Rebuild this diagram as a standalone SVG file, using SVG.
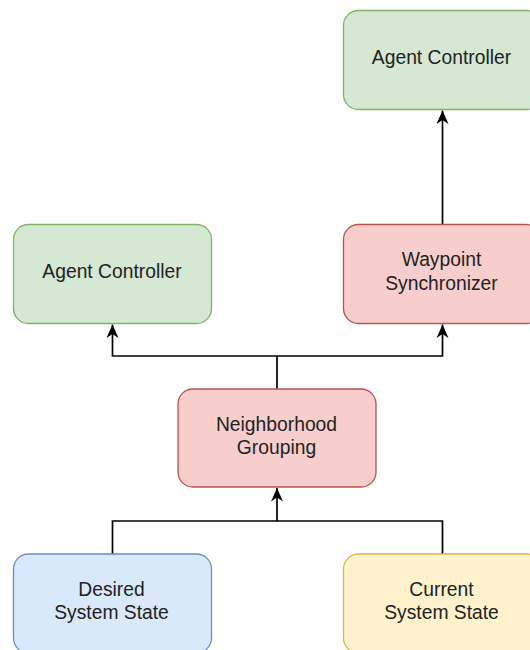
<svg xmlns="http://www.w3.org/2000/svg" width="530" height="650" viewBox="0 0 530 650">
  <style>
    .box { stroke-width: 1.3; }
    .green { fill: #d5e8d4; stroke: #82b366; }
    .red { fill: #f8cecc; stroke: #b85450; }
    .blue { fill: #dae8fc; stroke: #6c8ebf; }
    .yellow { fill: #fff2cc; stroke: #d6b656; }
    .label { font-family: "Liberation Sans", Arial, Helvetica, sans-serif; font-size: 19.3px; fill: #222; text-anchor: middle; }
    .edge { fill: none; stroke: #000; stroke-width: 1.7; }
  </style>
  <defs>
    <marker id="arrow" markerUnits="userSpaceOnUse" markerWidth="15" markerHeight="13" viewBox="0 0 15 13" refX="14" refY="6.5" orient="auto">
      <path d="M0.5,0.5 L14,6.5 L0.5,12.5 L4.5,6.5 Z" fill="#000"/>
    </marker>
  </defs>
  <rect width="530" height="650" fill="#fff"/>

  <g id="connectors">
    <path class="edge" d="M442.5,224.5 V110.5" marker-end="url(#arrow)"/>
    <path class="edge" d="M277,389 V356 H112.5 V324.5" marker-end="url(#arrow)"/>
    <path class="edge" d="M277,356 H442.5 V324.5" marker-end="url(#arrow)"/>
    <path class="edge" d="M112.5,554 V521 H277 V488" marker-end="url(#arrow)"/>
    <path class="edge" d="M442.5,554 V521 H277"/>
  </g>

  <g id="agent-controller-top">
    <rect class="box green" x="343.5" y="10.5" width="198" height="99" rx="15"/>
    <text class="label" x="441.5" y="64">Agent Controller</text>
  </g>
  <g id="agent-controller-left">
    <rect class="box green" x="13.5" y="224.5" width="198" height="99" rx="15"/>
    <text class="label" x="112" y="278">Agent Controller</text>
  </g>
  <g id="waypoint-synchronizer">
    <rect class="box red" x="343.5" y="224.5" width="198" height="99" rx="15"/>
    <text class="label" x="441.5" y="266">Waypoint</text>
    <text class="label" x="441.5" y="289.5">Synchronizer</text>
  </g>
  <g id="neighborhood-grouping">
    <rect class="box red" x="178" y="389" width="198" height="98" rx="15"/>
    <text class="label" x="276.5" y="430.5">Neighborhood</text>
    <text class="label" x="276.5" y="453.5">Grouping</text>
  </g>
  <g id="desired-system-state">
    <rect class="box blue" x="13.5" y="554" width="198" height="99" rx="15"/>
    <text class="label" x="111.5" y="596">Desired</text>
    <text class="label" x="111.5" y="619">System State</text>
  </g>
  <g id="current-system-state">
    <rect class="box yellow" x="343.5" y="554" width="198" height="99" rx="15"/>
    <text class="label" x="441.5" y="596">Current</text>
    <text class="label" x="441.5" y="619">System State</text>
  </g>
</svg>
